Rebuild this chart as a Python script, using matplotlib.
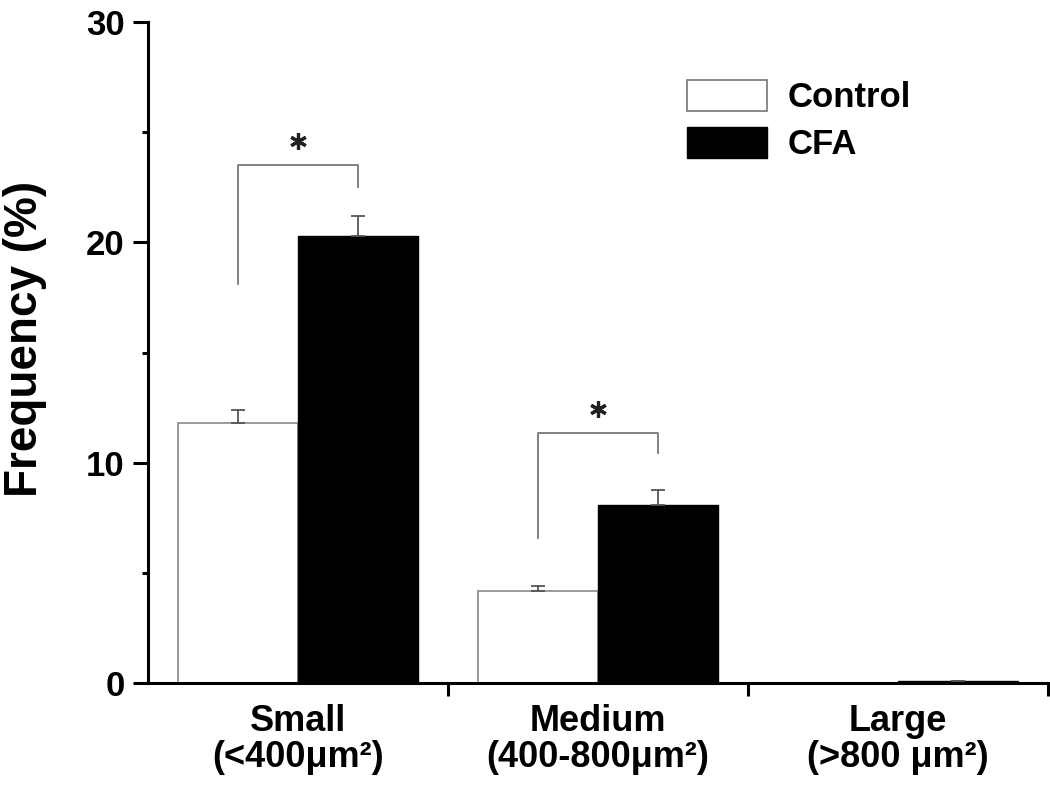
import matplotlib
matplotlib.use("Agg")
import matplotlib.pyplot as plt
import numpy as np
from matplotlib.patches import Patch

# data
categories = ["Small\n(<400\u03bcm\u00b2)", "Medium\n(400-800\u03bcm\u00b2)", "Large\n(>800 \u03bcm\u00b2)"]
control = [11.8, 4.2, 0.03]
control_err = [0.6, 0.2, 0.0]
cfa = [20.3, 8.1, 0.1]
cfa_err = [0.9, 0.65, 0.0]
# significance brackets: (category, top, left end, right end, star)
brackets = [(0, 23.5, 18.1, 22.5, 24.58), (1, 11.35, 6.6, 10.45, 12.45)]

plt.rcParams['font.family'] = ['Liberation Sans', 'DejaVu Sans']
plt.rcParams['font.weight'] = 'bold'

fig = plt.figure(figsize=(10.5, 8), dpi=100)
ax = fig.add_axes([0.141, 0.146, 0.857, 0.8265])

x = np.arange(len(categories))
w = 0.4
ekw = dict(ecolor='#555555', elinewidth=1.3, capsize=5, capthick=1.3)
ax.bar(x - w / 2, control, w, color='white', edgecolor='#808080', linewidth=1.1,
       yerr=[np.zeros(3), control_err], error_kw=ekw, label='Control', zorder=2)
ax.bar(x + w / 2, cfa, w, color='black', edgecolor='black', linewidth=1.0,
       yerr=[np.zeros(3), cfa_err], error_kw=ekw, label='CFA', zorder=2)

for cat, top, yl, yr, star in brackets:
    xl = cat - w / 2
    xr = cat + w / 2
    ax.plot([xl, xl, xr, xr], [yl, top, top, yr], color='#777777', lw=1.3)
    ax.plot([cat], [star], marker=(6, 2, 0), markersize=12, mew=2.3, color='#222222')

ax.set_xlim(-0.5, 2.5)
ax.set_ylim(0, 30)
ax.set_yticks([0, 10, 20, 30])
ax.set_yticks([5, 15, 25], minor=True)
ax.set_xticks(x)
ax.set_xticklabels(categories, linespacing=1.05)
ax.set_xticks([0.5, 1.5, 2.5], minor=True)

for s in ['top', 'right']:
    ax.spines[s].set_visible(False)
for s in ['left', 'bottom']:
    ax.spines[s].set_linewidth(2.2)

ax.tick_params(axis='y', which='major', direction='out', length=11, width=2.2, labelsize=25, pad=6)
ax.tick_params(axis='y', which='minor', direction='out', length=4.5, width=2.2)
ax.tick_params(axis='x', which='major', length=0, labelsize=26, pad=15)
ax.tick_params(axis='x', which='minor', direction='out', length=9.5, width=2.2)
for lab in ax.get_xticklabels() + ax.get_yticklabels():
    lab.set_fontweight('bold')

ax.set_ylabel('Frequency (%)', fontsize=33, fontweight='bold')
ax.yaxis.set_label_coords(-0.112, 0.52)

handles = [Patch(facecolor='white', edgecolor='#808080', linewidth=1.3),
           Patch(facecolor='black', edgecolor='black')]
leg = fig.legend(handles, ['Control', 'CFA'], loc='upper left', bbox_to_anchor=(0.654, 0.9),
                 frameon=False, prop={'size': 25, 'weight': 'bold'}, borderpad=0, borderaxespad=0,
                 handlelength=2.3, handleheight=1.0, handletextpad=0.6, labelspacing=0.35)

fig.savefig('out.png', dpi=100)
